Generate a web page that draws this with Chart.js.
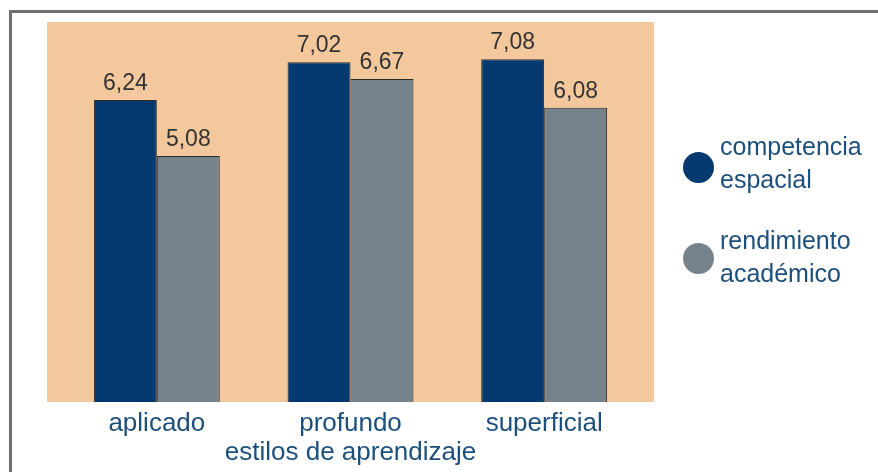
<!DOCTYPE html>
<html>
<head>
<meta charset="utf-8">
<script src="https://cdn.jsdelivr.net/npm/chart.js@4"></script>
<style>
html,body{margin:0;padding:0;background:#fff;}
#wrap{position:relative;width:878px;height:472px;overflow:hidden;}
.item{position:absolute;left:720px;font-family:"Liberation Sans",Arial,sans-serif;font-size:25px;color:#1d4f7c;line-height:33px;white-space:nowrap;}
.dot{position:absolute;left:683px;width:31px;height:31px;border-radius:50%;}
</style>
</head>
<body>
<div id="wrap">
<canvas id="c" width="878" height="472"></canvas>
<div id="legend"></div>
</div>
<script>
const categories = ['aplicado', 'profundo', 'superficial'];
const seriesNames = [['competencia', 'espacial'], ['rendimiento', 'académico']];
const competencia = [6.24, 7.02, 7.08];
const rendimiento = [5.08, 6.67, 6.08];
const axisTitle = 'estilos de aprendizaje';
const colors = ['#043a6f', '#76828c'];

const FONT = '"Liberation Sans", Arial, sans-serif';

const legend = document.getElementById('legend');
const textTops = [130, 224];
const dotTops = [152, 243];
seriesNames.forEach((lines, i) => {
  const dot = document.createElement('span');
  dot.className = 'dot';
  dot.style.background = colors[i];
  dot.style.top = dotTops[i] + 'px';
  legend.appendChild(dot);
  const d = document.createElement('div');
  d.className = 'item';
  d.style.top = textTops[i] + 'px';
  d.innerHTML = lines.join('<br>');
  legend.appendChild(d);
});

const bgPlugin = {
  id: 'bg',
  beforeDraw(chart) {
    const ctx = chart.ctx, a = chart.chartArea;
    ctx.save();
    ctx.fillStyle = '#fff';
    ctx.fillRect(0, 0, chart.width, chart.height);
    ctx.fillStyle = '#f3c89c';
    ctx.fillRect(a.left - 13, a.top, a.right - a.left + 26, a.bottom - a.top);
    ctx.strokeStyle = '#707070';
    ctx.lineWidth = 3;
    ctx.beginPath();
    ctx.moveTo(10.5, 480);
    ctx.lineTo(10.5, 11.5);
    ctx.lineTo(900, 11.5);
    ctx.stroke();
    ctx.restore();
  }
};

const labelPlugin = {
  id: 'vals',
  afterDatasetsDraw(chart) {
    const ctx = chart.ctx;
    ctx.save();
    ctx.font = '23px ' + FONT;
    ctx.fillStyle = '#333333';
    ctx.textAlign = 'center';
    ctx.textBaseline = 'alphabetic';
    chart.data.datasets.forEach((ds, di) => {
      chart.getDatasetMeta(di).data.forEach((el, i) => {
        ctx.fillText(ds.data[i].toFixed(2).replace('.', ','), el.x, el.y - 10);
      });
    });
    ctx.restore();
  }
};

new Chart(document.getElementById('c'), {
  type: 'bar',
  data: {
    labels: categories,
    datasets: [
      { label: seriesNames[0].join(' '), data: competencia, backgroundColor: colors[0], borderColor: '#2b2b2b', borderWidth: 1 },
      { label: seriesNames[1].join(' '), data: rendimiento, backgroundColor: colors[1], borderColor: '#2b2b2b', borderWidth: 1 }
    ]
  },
  options: {
    responsive: false,
    animation: false,
    layout: { padding: { left: 60, right: 237, top: 22, bottom: 0 } },
    datasets: { bar: { barPercentage: 1, categoryPercentage: 0.65 } },
    plugins: { legend: { display: false }, tooltip: { enabled: false } },
    scales: {
      y: { display: false, min: 0, max: 7.85 },
      x: {
        grid: { display: false, drawTicks: false },
        border: { display: false },
        ticks: { color: '#1d4f7c', font: { family: FONT, size: 26, lineHeight: 1 }, padding: 9 },
        title: { display: true, text: axisTitle, color: '#1d4f7c', font: { family: FONT, size: 26, lineHeight: 1 }, padding: { top: 0, bottom: 6 } },
        afterFit(scale) { scale.height = 70; }
      }
    }
  },
  plugins: [bgPlugin, labelPlugin]
});
</script>
</body>
</html>
